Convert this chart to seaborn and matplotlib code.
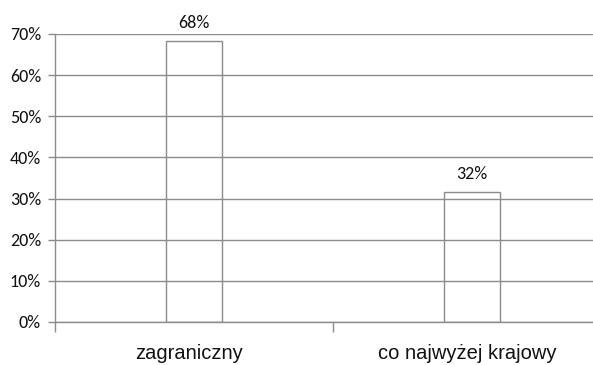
import matplotlib
matplotlib.use("Agg")
import matplotlib.pyplot as plt
import matplotlib.transforms as mtransforms
import seaborn as sns
import pandas as pd
from matplotlib.ticker import FixedLocator, PercentFormatter

categories = ["zagraniczny", "co najwyżej krajowy"]
shares = [68.4, 31.6]
yticks = [0, 10, 20, 30, 40, 50, 60, 70]

df = pd.DataFrame({"kategoria": categories, "udzial": shares})

sns.set_style("white")
grid_col = "#8c8c8c"

fig = plt.figure(figsize=(5.93, 3.65), dpi=100)
ax = fig.add_axes([55 / 593, 1 - 322 / 365, 1 - 55 / 593, (322 - 34) / 365])

sns.barplot(data=df, x="kategoria", y="udzial", ax=ax, width=0.205,
            fill=False, edgecolor=grid_col, linewidth=1.0, errorbar=None)

ax.set_xlim(-0.5, -0.5 + 538 / 278)
ax.set_ylim(0, 70)
ax.set_yticks(yticks)
ax.yaxis.set_major_formatter(PercentFormatter(decimals=0))
ax.grid(axis="y", color=grid_col, linewidth=1.0)
ax.set_axisbelow(True)

for s in ["top", "right"]:
    ax.spines[s].set_visible(False)
for s in ["left", "bottom"]:
    ax.spines[s].set_color(grid_col)
    ax.spines[s].set_linewidth(1.0)

ax.tick_params(axis="y", direction="out", length=5, width=1.0, color=grid_col,
               labelsize=13, pad=5, left=True, labelcolor="#111111")
ax.tick_params(axis="x", which="major", length=0, pad=16, labelsize=14.5,
               labelcolor="#111111")
ax.xaxis.set_minor_locator(FixedLocator([-0.5, 0.5]))
ax.tick_params(axis="x", which="minor", direction="out", length=7, width=1.0,
               color=grid_col, bottom=True)

# nudge the category labels slightly to the left
shift = mtransforms.ScaledTranslation(-5 / 100, 0, fig.dpi_scale_trans)
for lbl in ax.get_xticklabels():
    lbl.set_family(["Liberation Sans", "DejaVu Sans"])
    lbl.set_transform(lbl.get_transform() + shift)
for lbl in ax.get_yticklabels():
    lbl.set_family(["Carlito", "DejaVu Sans"])

ax.set_xlabel("")
ax.set_ylabel("")

for i, v in enumerate(shares):
    ax.annotate(f"{round(v)}%", (i, v), xytext=(0, 7), textcoords="offset points",
                ha="center", va="bottom", fontsize=13, family=["Carlito", "DejaVu Sans"],
                fontstyle="normal", color="#111111")

fig.savefig("out.png", dpi=100)
